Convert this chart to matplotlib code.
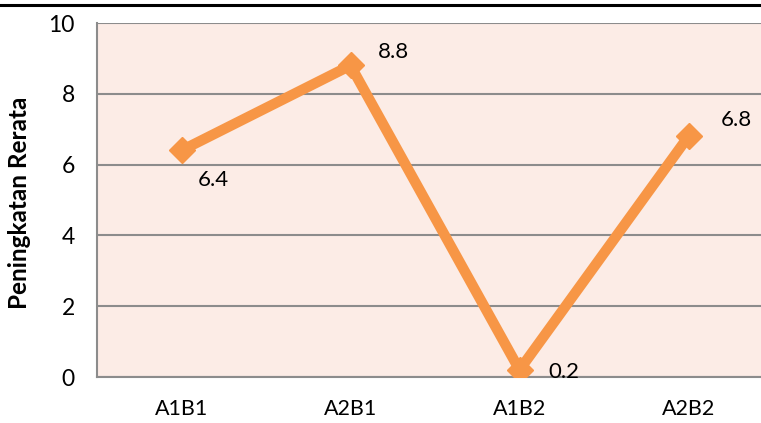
import matplotlib
matplotlib.use("Agg")
import matplotlib.pyplot as plt
from matplotlib.lines import Line2D

categories = ["A1B1", "A2B1", "A1B2", "A2B2"]
values = [6.4, 8.8, 0.2, 6.8]
yticks = [0, 2, 4, 6, 8, 10]
ylabel = "Peningkatan Rerata"

plt.rcParams['font.family'] = ['Lato', 'DejaVu Sans']

W, H = 761, 423
fig = plt.figure(figsize=(W/100, H/100), dpi=100)
left, right, top, bottom = 97, 761, 23, 377
ax = fig.add_axes([left/W, 1-bottom/H, (right-left)/W, (bottom-top)/H])
ax.set_facecolor("#FCECE6")

x = list(range(len(categories)))
ax.plot(x, values, color="#F79646", lw=7.5, marker="D", markersize=13,
        markerfacecolor="#F79646", markeredgecolor="#F79646", solid_joinstyle="miter", zorder=3)

ax.set_xlim(-0.5, 3.5 - 12/169)
ax.set_ylim(0, 10)
ax.set_yticks(yticks)
ax.set_yticklabels([str(t) for t in yticks], fontsize=16.5)
ax.set_xticks(x)
ax.set_xticklabels(categories, fontsize=15.5)
ax.tick_params(length=0)
ax.tick_params(axis='y', pad=16)
ax.tick_params(axis='x', pad=16)
ax.grid(axis='y', color="#8C8C8C", lw=1.5, zorder=1)
ax.set_axisbelow(True)
for s in ["top", "right"]:
    ax.spines[s].set_visible(False)
for s in ["left", "bottom"]:
    ax.spines[s].set_color("#8C8C8C")
    ax.spines[s].set_linewidth(1.5)

offsets = [(12, -21), (20, 10), (21, -1.5), (23, 11.5)]
for xi, v, off in zip(x, values, offsets):
    ax.annotate(str(v), (xi, v), xytext=off, textcoords="offset points",
                fontsize=16, ha="left", va="center")

fig.text(20/W, 1-203/H, ylabel, rotation=90, fontsize=17.5, fontweight="bold",
         ha="center", va="center")

fig.add_artist(Line2D([0, 1], [1-5/H, 1-5/H], color="black", lw=2.2, transform=fig.transFigure))

fig.savefig("out.png", dpi=100)
